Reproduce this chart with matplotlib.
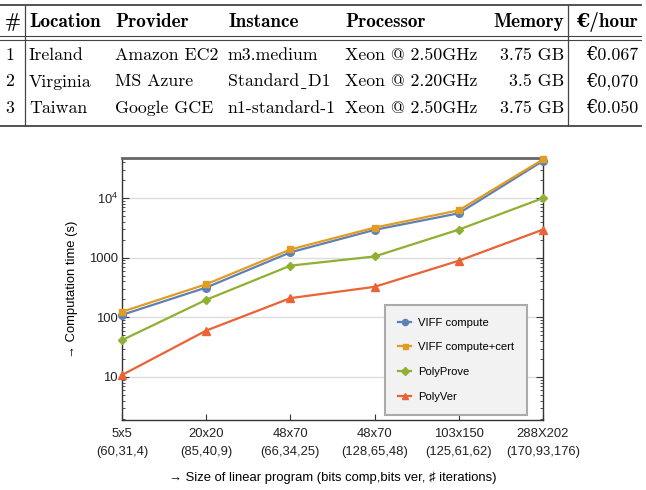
import matplotlib.pyplot as plt
from matplotlib.lines import Line2D
from matplotlib.ticker import FixedLocator, LogLocator, NullFormatter

# ---- table data ----
headers = ['#', 'Location', 'Provider', 'Instance', 'Processor', 'Memory', '€/hour']
row_ids = ['1', '2', '3']
locations = ['Ireland', 'Virginia', 'Taiwan']
providers = ['Amazon EC2', 'MS Azure', 'Google GCE']
instances = ['m3.medium', 'Standard_D1', 'n1-standard-1']
processors = ['Xeon @ 2.50GHz', 'Xeon @ 2.20GHz', 'Xeon @ 2.50GHz']
memory = ['3.75 GB', '3.5 GB', '3.75 GB']
prices = ['€0.067', '€0,070', '€0.050']

# ---- chart data ----
sizes = ['5x5', '20x20', '48x70', '48x70', '103x150', '288X202']
params = ['(60,31,4)', '(85,40,9)', '(66,34,25)', '(128,65,48)',
          '(125,61,62)', '(170,93,176)']
viff_compute = [110, 316, 1230, 2930, 5560, 42000]
viff_cert = [124, 359, 1375, 3200, 6240, 44500]
polyprove = [41.5, 197, 736, 1050, 2960, 10000]
polyver = [10.8, 60, 210, 325, 890, 2960]

W, H = 646, 490
fig = plt.figure(figsize=(W / 100, H / 100), dpi=100)


def fx(px):
    return px / W


def fy(py):
    return 1 - py / H


# table text (cmr10 has no underscore glyph, so borrow a low bar from DejaVu)
body_font = ['cmr10', 'DejaVu Serif']
head_font = ['cmb10', 'DejaVu Serif']
col_x = [5, 29, 115, 228, 345, 564, 638]
col_ha = ['left', 'left', 'left', 'left', 'left', 'right', 'right']
row_base = [60, 86.5, 113]
fsize = 12.8

for x, ha, h in zip(col_x, col_ha, headers):
    fig.text(fx(x), fy(27), h, ha=ha, va='baseline', family=head_font,
             weight='bold', fontsize=13.8)

columns = [row_ids, locations, providers, instances, processors, memory, prices]
for x, ha, col in zip(col_x, col_ha, columns):
    for yb, val in zip(row_base, col):
        fig.text(fx(x), fy(yb), val.replace('_', '\u02cd'), ha=ha, va='baseline',
                 family=body_font, fontsize=fsize)

# table rules
rule_c = '#444444'
for yy, lw in [(5, 1.3), (36, 0.8), (40, 0.8), (126, 1.3)]:
    fig.add_artist(Line2D([fx(0), fx(641)], [fy(yy), fy(yy)], color=rule_c, lw=lw))
for xx in [25, 568]:
    fig.add_artist(Line2D([fx(xx), fx(xx)], [fy(6), fy(125)], color=rule_c, lw=0.9))

# ---- chart ----
ax = fig.add_axes([122 / W, 1 - 420 / H, 421 / W, 262 / H])
x = list(range(len(sizes)))

series = [
    ('VIFF compute', viff_compute, '#5E81B5', 'o', 5.5),
    ('VIFF compute+cert', viff_cert, '#E19C24', 's', 4.5),
    ('PolyProve', polyprove, '#8FB032', 'D', 4.5),
    ('PolyVer', polyver, '#EB6235', '^', 6),
]
for name, vals, c, m, ms in series:
    ax.plot(x, vals, color=c, marker=m, ms=ms, lw=1.6, label=name, clip_on=False,
            zorder=3)

ax.set_yscale('log')
ax.set_ylim(1.9, 47000)
ax.set_xlim(0, 5)

sans = ['Liberation Sans', 'DejaVu Sans']
plt.rcParams['mathtext.fontset'] = 'custom'
plt.rcParams['mathtext.rm'] = 'Liberation Sans'

ax.yaxis.set_major_locator(FixedLocator([10, 100, 1000, 10000]))
ax.set_yticklabels(['10', '100', '1000', r'$\mathregular{10^4}$'], family=sans, fontsize=9.4)
ax.yaxis.set_minor_locator(LogLocator(base=10, subs=range(2, 10)))
ax.yaxis.set_minor_formatter(NullFormatter())
ax.set_xticks(x)
ax.set_xticklabels([f'{s}\n{p}' for s, p in zip(sizes, params)], family=sans,
                   fontsize=9.4, linespacing=1.6)

ax.tick_params(axis='y', which='both', direction='in', left=True, right=True,
               color='#333333', labelcolor='#222222', pad=3)
ax.tick_params(axis='y', which='major', length=5, width=0.8)
ax.tick_params(axis='y', which='minor', length=2.5, width=0.6)
ax.tick_params(axis='x', which='major', direction='in', length=4, width=0.8,
               color='#333333', labelcolor='#222222', pad=6)

ax.grid(axis='y', which='major', color='#dddddd', lw=1)
ax.set_axisbelow(True)
for side in ['left', 'bottom', 'right']:
    ax.spines[side].set_color('#333333')
    ax.spines[side].set_linewidth(1.0)
ax.spines['top'].set_color('#666666')
ax.spines['top'].set_linewidth(2.0)

ax.set_ylabel('→ Computation time (s)', family=sans, fontsize=9.4, labelpad=8)
ax.set_xlabel('→ Size of linear program (bits comp,bits ver, ♯ iterations)',
              family=sans, fontsize=9.4, labelpad=10)

leg = ax.legend(loc='lower right', bbox_to_anchor=(0.962, 0.019), borderaxespad=0,
                frameon=True, fancybox=False, handlelength=1.15, labelspacing=1.32,
                borderpad=1.15, handletextpad=0.6, markerscale=0.8,
                prop={'family': sans, 'size': 8.1})
leg.get_frame().set_facecolor('#f2f2f2')
leg.get_frame().set_edgecolor('#aaaaaa')
leg.get_frame().set_linewidth(1.5)
leg.get_frame().set_alpha(1)

fig.savefig('out.png', dpi=100)
